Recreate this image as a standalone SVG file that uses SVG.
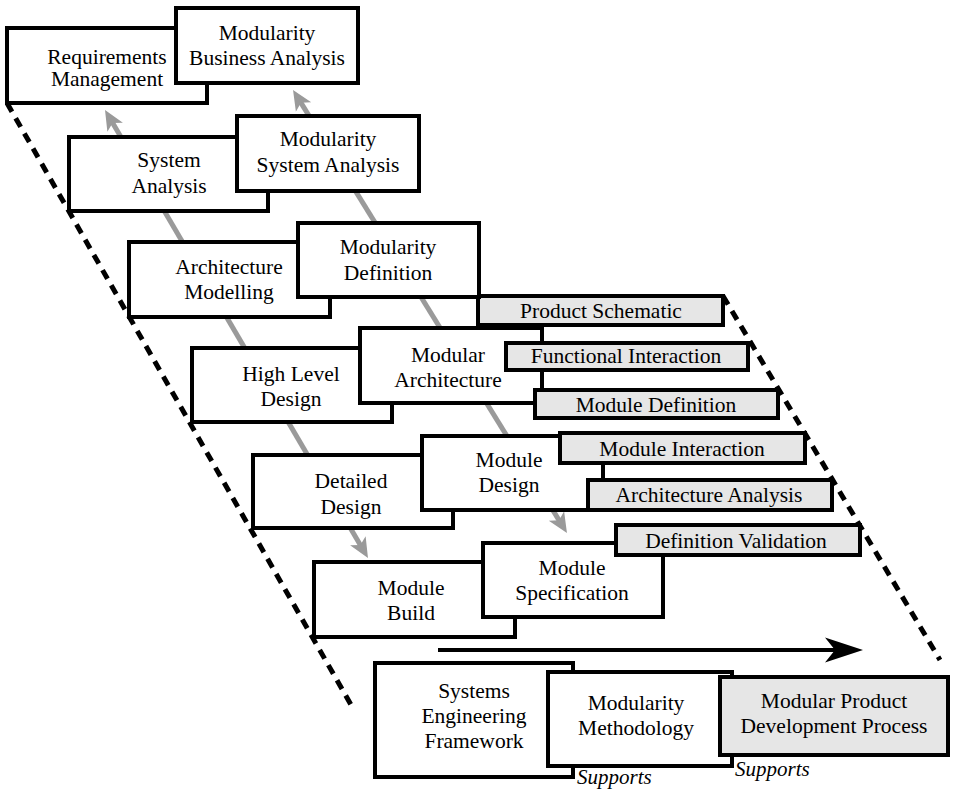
<svg xmlns="http://www.w3.org/2000/svg" width="955" height="790" viewBox="0 0 955 790">
<defs>
<style>
.box{fill:#fff;stroke:#000;stroke-width:4}
.gbox{fill:#e6e6e6;stroke:#000;stroke-width:4}
text{font-size:21.5px;fill:#000;text-anchor:middle}
.it{font-style:italic;font-size:21px;text-anchor:start}
.grey{stroke:#9a9a9a;stroke-width:5;fill:none;marker-start:url(#ga);marker-end:url(#ga)}
.dash{stroke:#000;stroke-width:5;fill:none;stroke-dasharray:10 7.5}
.flow{stroke:#000;stroke-width:4;fill:none;marker-end:url(#ba)}
</style>
<marker id="ga" markerUnits="userSpaceOnUse" viewBox="0 -10 21 20" markerWidth="21" markerHeight="20" refX="6" refY="0" orient="auto-start-reverse">
<path d="M20,0 L0,-9 L5,0 L0,9 Z" fill="#9a9a9a"/>
</marker>
<marker id="ba" markerUnits="userSpaceOnUse" viewBox="0 -13 39 26" markerWidth="39" markerHeight="26" refX="12" refY="0" orient="auto">
<path d="M38,0 L0,-12.5 L10,0 L0,12.5 Z" fill="#000"/>
</marker>
</defs>
<rect width="955" height="790" fill="#fff"/>

<g id="connectors">
<line class="grey" x1="112.1" y1="122.1" x2="360.9" y2="545.9"/>
<line class="grey" x1="300.4" y1="101.9" x2="559.6" y2="521.1"/>
<line class="flow" x1="438" y1="650" x2="837" y2="650"/>
</g>

<g font-family="'Liberation Serif', Tinos, 'Times New Roman', 'Nimbus Roman', 'DejaVu Serif', 'Noto Serif', serif">
<g id="requirements-management"><rect class="box" x="7" y="28" width="200" height="75"/><text x="107" y="64">Requirements</text><text x="107" y="86">Management</text></g>
<g id="modularity-business-analysis"><rect class="box" x="176" y="8" width="182" height="75"/><text x="267" y="40">Modularity</text><text x="267" y="65">Business Analysis</text></g>

<g id="system-analysis"><rect class="box" x="69" y="137" width="199" height="74"/><text x="169" y="167">System</text><text x="169" y="193">Analysis</text></g>
<g id="modularity-system-analysis"><rect class="box" x="237" y="116" width="182" height="75"/><text x="328" y="146">Modularity</text><text x="328" y="172">System Analysis</text></g>

<g id="architecture-modelling"><rect class="box" x="129" y="242" width="201" height="75"/><text x="229" y="274">Architecture</text><text x="229" y="299">Modelling</text></g>
<g id="product-schematic"><rect class="gbox" x="478" y="296" width="245" height="29"/><text x="601" y="318">Product Schematic</text></g>
<g id="modularity-definition"><rect class="box" x="298" y="223" width="181" height="74"/><text x="388" y="254">Modularity</text><text x="388" y="280">Definition</text></g>

<g id="high-level-design"><rect class="box" x="192" y="348" width="200" height="74"/><text x="291" y="381">High Level</text><text x="291" y="406">Design</text></g>
<g id="modular-architecture"><rect class="box" x="360" y="328" width="182" height="75"/><text x="448" y="362">Modular</text><text x="448" y="387">Architecture</text></g>
<g id="functional-interaction"><rect class="gbox" x="506" y="343" width="242" height="27"/><text x="626" y="363">Functional Interaction</text></g>
<g id="module-definition"><rect class="gbox" x="535" y="390" width="243" height="28"/><text x="656" y="412">Module Definition</text></g>

<g id="detailed-design"><rect class="box" x="253" y="455" width="200" height="73"/><text x="351" y="488">Detailed</text><text x="351" y="514">Design</text></g>
<g id="module-design"><rect class="box" x="422" y="436" width="181" height="74"/><text x="509" y="467">Module</text><text x="509" y="492">Design</text></g>
<g id="module-interaction"><rect class="gbox" x="560" y="433" width="245" height="30"/><text x="682" y="456">Module Interaction</text></g>
<g id="architecture-analysis"><rect class="gbox" x="588" y="480" width="244" height="30"/><text x="709" y="502">Architecture Analysis</text></g>

<g id="module-build"><rect class="box" x="314" y="562" width="201" height="75"/><text x="411" y="595">Module</text><text x="411" y="620">Build</text></g>
<g id="module-specification"><rect class="box" x="483" y="543" width="180" height="74"/><text x="572" y="575">Module</text><text x="572" y="600">Specification</text></g>
<g id="definition-validation"><rect class="gbox" x="616" y="525" width="244" height="30"/><text x="736" y="548">Definition Validation</text></g>

<g id="systems-engineering-framework"><rect class="box" x="375" y="663" width="198" height="114"/><text x="474" y="698">Systems</text><text x="474" y="723">Engineering</text><text x="474" y="748">Framework</text></g>
<g id="modularity-methodology"><rect class="box" x="548" y="672" width="184" height="94"/><text x="636" y="710">Modularity</text><text x="636" y="735">Methodology</text></g>
<g id="modular-product-development-process"><rect class="gbox" x="720" y="677" width="228" height="78"/><text x="834" y="708">Modular Product</text><text x="834" y="733">Development Process</text></g>

<g id="labels">
<text class="it" x="577" y="784">Supports</text>
<text class="it" x="735" y="776">Supports</text>
</g>
</g>

<g id="boundaries">
<line class="dash" x1="7" y1="103" x2="354" y2="710"/>
<line class="dash" x1="723" y1="296" x2="940" y2="660"/>
</g>
</svg>
